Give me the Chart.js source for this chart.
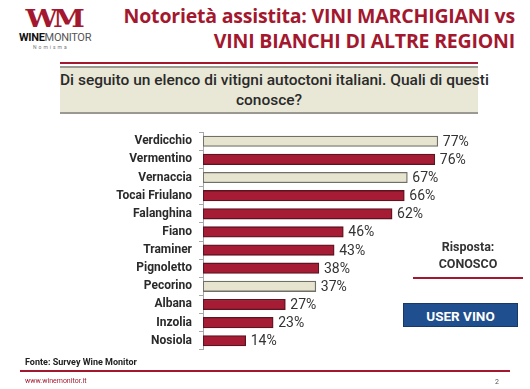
<!DOCTYPE html>
<html>
<head>
<meta charset="utf-8">
<script src="https://cdn.jsdelivr.net/npm/chart.js@4/dist/chart.umd.min.js"></script>
<style>
  body { margin: 0; background: #fff; font-family: Roboto, "Noto Sans", sans-serif; }
  #page { position: relative; width: 530px; height: 389px; overflow: hidden; }
  .abs { position: absolute; white-space: nowrap; }
  #title { right: 15px; top: 3px; text-align: right; color: #a3182e; font-weight: bold; font-size: 19.5px; line-height: 25px; font-family: "Open Sans", Roboto, sans-serif; letter-spacing: -0.2px; }
  #logoMark { left: 29px; top: 4px; color: #a3182e; font-weight: 900; font-size: 25px; letter-spacing: -4px; font-family: "DejaVu Serif", serif; transform: scaleX(1.15); }
  #logoText { left: 19px; top: 31px; font-size: 11px; color: #222; letter-spacing: -0.3px; }
  #logoText b { color: #111; }
  #logoText span { color: #555; }
  #nomisma { left: 33px; top: 44px; font-size: 5px; color: #777; letter-spacing: 2px; }
  #qline { left: 60px; top: 62px; width: 418px; height: 2px; background: #a3182e; }
  #qbox { left: 60px; top: 66px; width: 418px; height: 48px; background: #e9e7d6; border-top: 2px solid #9a9a92; border-bottom: 2px solid #9a9a92; box-sizing: border-box; text-align: center; font-size: 15.5px; line-height: 20px; color: #2a2a2a; padding-top: 2px; letter-spacing: 0px; font-weight: 500; }
  #chartWrap { position: absolute; left: 0; top: 118px; width: 530px; height: 246px; }
  #risp { left: 408px; top: 238px; width: 120px; text-align: center; font-size: 12.5px; line-height: 17px; font-weight: bold; color: #333; }
  #rline { left: 413px; top: 277px; width: 110px; height: 2px; background: #a3182e; }
  #user { left: 403px; top: 303px; width: 115px; height: 24px; background: #1f4f8e; color: #fff; font-weight: bold; font-size: 13.5px; line-height: 24px; text-align: center; border: 1px solid #17396a; box-sizing: border-box; }
  #fonte { left: 25px; top: 357px; font-size: 9px; font-weight: bold; color: #222; }
  #fline { left: 20px; top: 370px; width: 490px; height: 2px; background: #a3182e; }
  #www { left: 25px; top: 377px; font-size: 7px; color: #a3182e; }
  #pg { left: 495px; top: 378px; font-size: 7px; color: #555; }
</style>
</head>
<body>
<div id="page">
  <div class="abs" id="logoMark">WM</div>
  <div class="abs" id="logoText"><b>WINE</b><span>MONITOR</span></div>
  <div class="abs" id="nomisma">Nomisma</div>
  <div class="abs" id="title">Notorietà assistita: VINI MARCHIGIANI vs<br>VINI BIANCHI DI ALTRE REGIONI</div>
  <div class="abs" id="qline"></div>
  <div class="abs" id="qbox">Di seguito un elenco di vitigni autoctoni italiani. Quali di questi<br>conosce?</div>
  <div id="chartWrap"><canvas id="chart"></canvas></div>
  <div class="abs" id="risp">Risposta:<br>CONOSCO</div>
  <div class="abs" id="rline"></div>
  <div class="abs" id="user">USER VINO</div>
  <div class="abs" id="fonte">Fonte: Survey Wine Monitor</div>
  <div class="abs" id="fline"></div>
  <div class="abs" id="www">www.winemonitor.it</div>
  <div class="abs" id="pg">2</div>
</div>
<script>
// Vitigni and awareness (%)
var vitigni = ['Verdicchio', 'Vermentino', 'Vernaccia', 'Tocai Friulano', 'Falanghina', 'Fiano',
               'Traminer', 'Pignoletto', 'Pecorino', 'Albana', 'Inzolia', 'Nosiola'];
var conosco = [77, 76, 67, 66, 62, 46, 43, 38, 37, 27, 23, 14];
// true = vino marchigiano (beige bar)
var marchigiano = [true, false, true, false, false, false, false, false, true, false, false, false];

var RED = '#a51c34', RED_BORDER = '#5e1320';
var BEIGE = '#e6e3cf', BEIGE_BORDER = '#6f6f68';

// Labels at the end of each bar
var valueLabels = {
    id: 'valueLabels',
    afterDatasetsDraw: function(chart) {
        var ctx = chart.ctx;
        var meta = chart.getDatasetMeta(0);
        ctx.save();
        ctx.font = '14px Roboto, sans-serif';
        ctx.fillStyle = '#333';
        ctx.textBaseline = 'middle';
        meta.data.forEach(function(bar, i) {
            ctx.fillText(conosco[i] + '%', bar.x + 5, bar.y + 1);
        });
        ctx.restore();
    }
};

var ctx = document.getElementById('chart').getContext('2d');
new Chart(ctx, {
    type: 'bar',
    data: {
        labels: vitigni,
        datasets: [{
            data: conosco,
            backgroundColor: marchigiano.map(function(m) { return m ? BEIGE : RED; }),
            borderColor: marchigiano.map(function(m) { return m ? BEIGE_BORDER : RED_BORDER; }),
            borderWidth: 1.3,
            borderSkipped: false,
            barThickness: 10.5
        }]
    },
    options: {
        indexAxis: 'y',
        responsive: true,
        maintainAspectRatio: false,
        animation: false,
        layout: { padding: { left: 0, right: 22, top: 0, bottom: 0 } },
        plugins: { legend: { display: false }, tooltip: { enabled: false } },
        scales: {
            x: { display: false, min: 0, max: 100 },
            y: {
                afterFit: function(scale) { scale.width = 203; },
                border: { display: true, color: '#a8a8a8', width: 1 },
                grid: { drawOnChartArea: false, drawTicks: true, tickLength: 4, color: '#a8a8a8' },
                ticks: {
                    color: '#2a2a2a',
                    font: { family: 'Roboto, sans-serif', size: 12, weight: 'bold' },
                    padding: 7
                }
            }
        }
    },
    plugins: [valueLabels]
});
</script>
</body>
</html>
